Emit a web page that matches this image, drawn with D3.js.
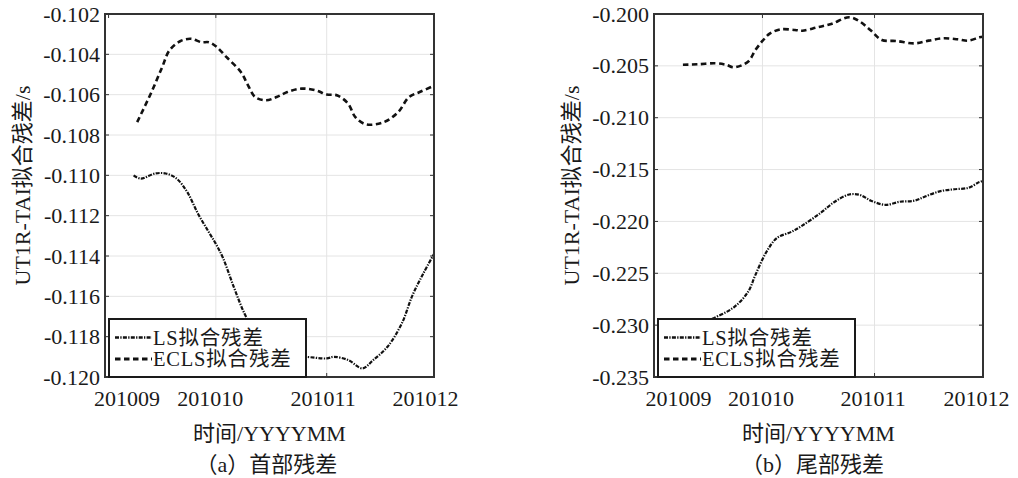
<!DOCTYPE html>
<html lang="zh">
<head>
<meta charset="UTF-8">
<title>UT1R-TAI拟合残差</title>
<style>
  body { margin: 0; background: #fff; }
  svg text { font-family: "Liberation Serif", "Noto Sans CJK SC", serif; fill: #1a1a1a; }
</style>
</head>
<body>
<svg width="1018" height="478"></svg>
<script src="https://d3js.org/d3.v7.min.js"></script>
<script>

// ---- data: (a) head residuals ----
const headLsDates = ["2010-09-08", "2010-09-10", "2010-09-14", "2010-09-17", "2010-09-20", "2010-09-23",
    "2010-09-26", "2010-09-29", "2010-10-01", "2010-10-03", "2010-10-06", "2010-10-09", "2010-10-12",
    "2010-10-15", "2010-10-19", "2010-10-23", "2010-10-26", "2010-11-01", "2010-11-03", "2010-11-07",
    "2010-11-11", "2010-11-14", "2010-11-18", "2010-11-22", "2010-11-25", "2010-11-28", "2010-12-01"];
const headLsValues = [-0.1100, -0.11016, -0.10991, -0.10991, -0.11016, -0.11083,
    -0.1119, -0.11281, -0.1134, -0.1141, -0.11553, -0.11685, -0.1178,
    -0.1185, -0.1189, -0.1190, -0.1190, -0.11908, -0.1190, -0.11916,
    -0.11957, -0.11916, -0.1185, -0.11734, -0.11594, -0.11487, -0.1139];

const headEclsDates = ["2010-09-09", "2010-09-13", "2010-09-16", "2010-09-18", "2010-09-21", "2010-09-24",
    "2010-09-27", "2010-09-29", "2010-10-01", "2010-10-04", "2010-10-08", "2010-10-10", "2010-10-12",
    "2010-10-15", "2010-10-18", "2010-10-21", "2010-10-25", "2010-10-29", "2010-11-01", "2010-11-04",
    "2010-11-07", "2010-11-09", "2010-11-12", "2010-11-17", "2010-11-21", "2010-11-24", "2010-11-27",
    "2010-12-01"];
const headEclsValues = [-0.10736, -0.10587, -0.10463, -0.10381, -0.10335, -0.10323,
    -0.1034, -0.1034, -0.1036, -0.10414, -0.10488, -0.10554, -0.10612,
    -0.10628, -0.10612, -0.10587, -0.1057, -0.10579, -0.10599, -0.10604,
    -0.10645, -0.10711, -0.10747, -0.10736, -0.10686, -0.10612, -0.10587,
    -0.10556];

// ---- data: (b) tail residuals ----
const tailLsDates = ["2010-09-09", "2010-09-13", "2010-09-17", "2010-09-23", "2010-09-27", "2010-09-29",
    "2010-10-02", "2010-10-05", "2010-10-09", "2010-10-12", "2010-10-17", "2010-10-21", "2010-10-25",
    "2010-10-28", "2010-10-31", "2010-11-04", "2010-11-08", "2010-11-12", "2010-11-15", "2010-11-19",
    "2010-11-23", "2010-11-27", "2010-11-30", "2010-12-01"];
const tailLsValues = [-0.2305, -0.2300, -0.2294, -0.2283, -0.2268, -0.2252,
    -0.2230, -0.2216, -0.2210, -0.2204, -0.2192, -0.2181, -0.2174,
    -0.21745, -0.2180, -0.2184, -0.2181, -0.2180, -0.2176, -0.2171,
    -0.2169, -0.21675, -0.2162, -0.2161];

const tailEclsDates = ["2010-09-09", "2010-09-13", "2010-09-18", "2010-09-21", "2010-09-23", "2010-09-27",
    "2010-09-29", "2010-10-01", "2010-10-03", "2010-10-06", "2010-10-10", "2010-10-12", "2010-10-16",
    "2010-10-20", "2010-10-25", "2010-10-28", "2010-10-31", "2010-11-03", "2010-11-07", "2010-11-12",
    "2010-11-16", "2010-11-20", "2010-11-24", "2010-11-27", "2010-11-30", "2010-12-01"];
const tailEclsValues = [-0.2049, -0.20485, -0.20475, -0.2049, -0.20514, -0.2046,
    -0.2035, -0.2026, -0.2019, -0.20148, -0.20154, -0.20161, -0.2013,
    -0.20096, -0.20032, -0.20074, -0.2016, -0.2025, -0.2026, -0.20283,
    -0.20257, -0.20234, -0.20244, -0.20257, -0.20225, -0.2022];

// ---- axes ----
const monthTicks = ["2010-09-01", "2010-10-01", "2010-11-01", "2010-12-01"];
const monthLabels = ["201009", "201010", "201011", "201012"];
const headYTicks = [-0.120, -0.118, -0.116, -0.114, -0.112, -0.110, -0.108, -0.106, -0.104, -0.102];
const tailYTicks = [-0.235, -0.230, -0.225, -0.220, -0.215, -0.210, -0.205, -0.200];
const seriesNames = ["LS拟合残差", "ECLS拟合残差"];

const parse = d3.utcParse("%Y-%m-%d");
const svg = d3.select("svg");

svg.append("rect").attr("width", 1018).attr("height", 478).attr("fill", "#fff");

const lsDash = "4,1.3,1.3,1.3";
const eclsDash = "5.5,3.5";

function drawPanel(o) {
    const g = svg.append("g");

    const x = d3.scaleUtc()
        .domain([parse(o.xStart), parse("2010-12-01")])
        .range([o.left, o.right]);
    const y = d3.scaleLinear()
        .domain(d3.extent(o.yTicks))
        .range([o.bottom, o.top]);

    // grid
    g.append("g").selectAll("line")
        .data(monthTicks.slice(1, 3).map(parse))
        .join("line")
        .attr("x1", d => x(d)).attr("x2", d => x(d))
        .attr("y1", o.top).attr("y2", o.bottom)
        .attr("stroke", "#e4e4e4").attr("stroke-width", 1);
    g.append("g").selectAll("line")
        .data(o.yTicks.slice(1, -1))
        .join("line")
        .attr("x1", o.left).attr("x2", o.right)
        .attr("y1", d => y(d)).attr("y2", d => y(d))
        .attr("stroke", "#e4e4e4").attr("stroke-width", 1);

    // series
    const line = d3.line()
        .x(d => x(d[0]))
        .y(d => y(d[1]))
        .curve(d3.curveCatmullRom.alpha(0.5));

    const lsData = o.lsDates.map((d, i) => [parse(d), o.lsValues[i]]);
    const eclsData = o.eclsDates.map((d, i) => [parse(d), o.eclsValues[i]]);

    g.append("path").datum(lsData)
        .attr("d", line)
        .attr("fill", "none").attr("stroke", "#111")
        .attr("stroke-width", 2.2).attr("stroke-dasharray", lsDash);
    g.append("path").datum(eclsData)
        .attr("d", line)
        .attr("fill", "none").attr("stroke", "#111")
        .attr("stroke-width", 2.6).attr("stroke-dasharray", eclsDash);

    // inner tick marks (all four sides)
    const tk = 4;
    const ticks = g.append("g").attr("stroke", "#333").attr("stroke-width", 1);
    o.yTicks.forEach(v => {
        ticks.append("line").attr("x1", o.left).attr("x2", o.left + tk).attr("y1", y(v)).attr("y2", y(v));
        ticks.append("line").attr("x1", o.right - tk).attr("x2", o.right).attr("y1", y(v)).attr("y2", y(v));
    });
    monthTicks.map(parse).forEach(d => {
        ticks.append("line").attr("x1", x(d)).attr("x2", x(d)).attr("y1", o.bottom).attr("y2", o.bottom - tk);
        ticks.append("line").attr("x1", x(d)).attr("x2", x(d)).attr("y1", o.top).attr("y2", o.top + tk);
    });

    // box
    g.append("rect")
        .attr("x", o.left).attr("y", o.top)
        .attr("width", o.right - o.left).attr("height", o.bottom - o.top)
        .attr("fill", "none").attr("stroke", "#333").attr("stroke-width", 2);

    // y tick labels
    const yAxis = g.append("g")
        .attr("transform", `translate(${o.left},0)`)
        .call(d3.axisLeft(y).tickValues(o.yTicks).tickFormat(d => d.toFixed(3)).tickSize(0).tickPadding(5));
    yAxis.select(".domain").remove();
    yAxis.selectAll("text")
        .attr("font-size", 22)
        .attr("fill", "#1a1a1a");

    // x tick labels
    const xAxis = g.append("g")
        .attr("transform", `translate(0,${o.bottom})`)
        .call(d3.axisBottom(x).tickValues(monthTicks.map(parse))
            .tickFormat((d, i) => monthLabels[i]).tickSize(0).tickPadding(13));
    xAxis.select(".domain").remove();
    xAxis.selectAll("text")
        .attr("font-size", 22)
        .attr("fill", "#1a1a1a")
        .attr("dx", (d, i) => o.labelShift[i]);

    // legend
    const lg = g.append("g").attr("transform", `translate(${o.left + 4},${o.bottom - 58})`);
    lg.append("rect")
        .attr("width", 197).attr("height", 58)
        .attr("fill", "#fff").attr("stroke", "#1a1a1a").attr("stroke-width", 2);
    [lsDash, eclsDash].forEach((dash, i) => {
        const ry = 18.5 + i * 21.5;
        lg.append("line")
            .attr("x1", 6).attr("x2", 43).attr("y1", ry).attr("y2", ry)
            .attr("stroke", "#111").attr("stroke-width", i === 0 ? 2.4 : 2.8)
            .attr("stroke-dasharray", dash);
        lg.append("text")
            .attr("x", 44).attr("y", ry + 7)
            .attr("font-size", 20.5)
            .attr("letter-spacing", 0.8)
            .text(seriesNames[i]);
    });

    // axis titles
    g.append("text")
        .attr("transform", `translate(${o.left - 75},${(o.top + o.bottom) / 2 - 10}) rotate(-90)`)
        .attr("text-anchor", "middle")
        .attr("font-size", 22)
        .text("UT1R-TAI拟合残差/s");
    g.append("text")
        .attr("x", (o.left + o.right) / 2).attr("y", 441)
        .attr("text-anchor", "middle")
        .attr("font-size", 22)
        .text("时间/YYYYMM");
    g.append("text")
        .attr("x", (o.left + o.right) / 2 + o.captionShift).attr("y", 472)
        .attr("text-anchor", "middle")
        .attr("font-size", 22)
        .text(o.caption);
}

drawPanel({
    left: 105, right: 434, top: 14, bottom: 377,
    xStart: "2010-08-31",
    yTicks: headYTicks,
    lsDates: headLsDates, lsValues: headLsValues,
    eclsDates: headEclsDates, eclsValues: headEclsValues,
    labelShift: [18, -6, -4, -9],
    caption: "（a）首部残差",
    captionShift: -3
});

drawPanel({
    left: 654, right: 983, top: 14, bottom: 377,
    xStart: "2010-09-01",
    yTicks: tailYTicks,
    lsDates: tailLsDates, lsValues: tailLsValues,
    eclsDates: tailEclsDates, eclsValues: tailEclsValues,
    labelShift: [24, -2, -2, -7],
    caption: "（b）尾部残差",
    captionShift: -6
});

</script>
</body>
</html>
